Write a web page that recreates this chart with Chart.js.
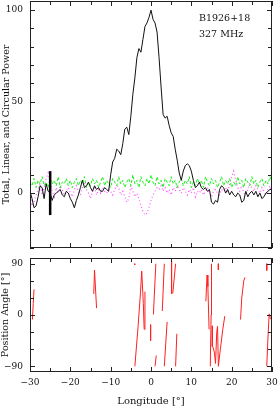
<!DOCTYPE html>
<html>
<head>
<meta charset="utf-8">
<script src="https://cdn.jsdelivr.net/npm/chart.js@4.4.0/dist/chart.umd.min.js"></script>
<style>
  html, body { margin: 0; padding: 0; background: #fff; }
  #wrap { position: relative; width: 278px; height: 407px; }
  canvas { position: absolute; left: 0; }
  #profileChart { top: 0; }
  #paChart { top: 250px; }
</style>
</head>
<body>
<div id="wrap">
  <canvas id="profileChart" width="278" height="250"></canvas>
  <canvas id="paChart" width="278" height="157"></canvas>
</div>
<script>
// Pulse longitude grid (deg)
const longitude = [
  -30, -29.5, -29, -28.5, -28, -27.5, -27, -26.5, -26, -25.5,
  -25, -24.5, -24, -23.5, -23, -22.5, -22, -21.5, -21, -20.5,
  -20, -19.5, -19, -18.5, -18, -17.5, -17, -16.5, -16, -15.5,
  -15, -14.5, -14, -13.5, -13, -12.5, -12, -11.5, -11, -10.5,
  -10, -9.5, -9, -8.5, -8, -7.5, -7, -6.5, -6, -5.5,
  -5, -4.5, -4, -3.5, -3, -2.5, -2, -1.5, -1, -0.5,
  0, 0.5, 1, 1.5, 2, 2.5, 3, 3.5, 4, 4.5,
  5, 5.5, 6, 6.5, 7, 7.5, 8, 8.5, 9, 9.5,
  10, 10.5, 11, 11.5, 12, 12.5, 13, 13.5, 14, 14.5,
  15, 15.5, 16, 16.5, 17, 17.5, 18, 18.5, 19, 19.5,
  20, 20.5, 21, 21.5, 22, 22.5, 23, 23.5, 24, 24.5,
  25, 25.5, 26, 26.5, 27, 27.5, 28, 28.5, 29, 29.5,
  30
];

// Total power (black solid)
const totalPower = [
  1, -3, -8, -7, -2, 4, 3, -3, 5, 1,
  0, -4, -1, 0, 1, 2, -1, -2, 1, 0,
  -3, -5, -8, -4, -1, 3, 7, 3, 4, 6,
  3, 1, 4, 2, 3, 1, 1, 3, 2, 1,
  10, 17, 19, 24, 23, 21, 27, 35, 36, 32,
  42, 54, 63, 74, 79, 77, 84, 91, 93, 96,
  100, 95, 93, 88, 74, 58, 43, 41, 42, 37,
  33, 31, 24, 18, 11, 7, 12, 15, 16, 15,
  12, 7, 3, 4, 6, 3, 2, 3, 1, 2,
  -5, -6, -4, -5, 2, 4, 3, 0, 2, -1,
  1, -1, -2, 0, -1, -5, -4, 1, -2, 0,
  1, -1, 1, -2, 0, -3, -2, 0, 1, 2,
  2
];

// Linear power (green dashed)
const linearPower = [
  6, 4, 8, 3, 7, 5, 9, 4, 6, 3,
  8, 5, 7, 4, 9, 3, 6, 5, 8, 4,
  7, 3, 6, 8, 4, 7, 5, 9, 3, 6,
  4, 8, 5, 7, 3, 6, 9, 4, 7, 5,
  3, 8, 6, 4, 9, 5, 7, 3, 6, 8,
  4, 10, 5, 7, 3, 9, 6, 4, 8, 5,
  10, 6, 4, 9, 5, 7, 3, 8, 6, 4,
  9, 5, 7, 3, 6, 8, 4, 7, 5, 9,
  3, 6, 4, 8, 5, 7, 3, 9, 6, 4,
  8, 5, 7, 3, 6, 9, 4, 7, 5, 8,
  3, 6, 4, 9, 5, 7, 3, 8, 6, 4,
  9, 5, 7, 3, 6, 8, 4, 7, 5, 9,
  6
];

// Circular power (magenta dotted)
const circularPower = [
  -2, -7, -5, -1, 2, 5, -1, 3, 8, 11,
  6, 1, -2, 3, 0, 4, 2, -1, 1, 3,
  0, -2, 2, 4, 1, -1, 3, 6, 2, 0,
  -3, 1, 3, -1, 2, 0, 3, 1, 0, 2,
  1, -1, 2, 4, 3, -1, 1, -2, -5, -3,
  4, 1, -2, 0, -3, -7, -10, -12, -11, -8,
  -4, -1, 1, 3, 2, 4, 1, 3, 0, 2,
  -1, 3, 1, 4, 2, 0, 3, 1, -1, 2,
  0, 3, -2, 1, 0, 2, -1, 1, 3, 0,
  -2, 1, 2, 0, -1, 2, 1, 3, 0, 5,
  9, 12, 7, 3, 1, 4, 0, -1, 2, 5,
  3, 1, 4, 2, 0, 3, 1, -1, 2, 4,
  1
];

// Off-pulse noise bar
const noiseLon = [-25, -25];
const noiseVal = [-12, 12];

// Position angle segments (null = break)
const paLon = [
  -29.4, -29.2, -29.0, null,
  -14.2, -14.0, -13.5, null,
  -4.15, -4.0, null,
  -4.0, -3.2, -2.6, -2.3, -1.9, -1.7, -1.5, null,
  -0.1, -0.1, null,
  0.6, 1.2, null,
  1.0, 1.3, null,
  2.8, 3.3, null,
  3.3, 4.0, null,
  5.1, 5.1, null,
  5.4, 6.1, null,
  6.1, 6.4, null,
  13.6, 13.9, 14.1, 14.4, null,
  14.7, 14.9, 15.0, null,
  15.2, 15.2, null,
  15.3, 15.7, 16.0, 16.3, 16.5, 16.7, 17.2, 17.8, 18.3, null,
  16.7, 16.7, null,
  22.2, 22.5, 23.0, 23.3, null,
  28.7, 28.7, null,
  28.7, 29.0, 29.3, 29.6, 30.0
];
const paAngle = [
  -8, 20, 45, null,
  37, 79, 12, null,
  90, 88, null,
  -90, -20, 40, 77, 20, -25, 41, null,
  -17, -45, null,
  1, 90, null,
  -90, -71, null,
  7, 90, null,
  -90, -12, null,
  95, 37, null,
  38, 90, null,
  -90, -33, null,
  24, 70, 50, -25, null,
  -90, 0, 90, null,
  -19, -55, null,
  -55, -65, -85, -30, -20, -90, -60, -25, -2, null,
  90, 79, null,
  -8, 30, 60, 66, null,
  90, 78, null,
  -90, -40, 2, -5, -10
];

// Ticks
const lonTicks = [-30, -25, -20, -15, -10, -5, 0, 5, 10, 15, 20, 25, 30];
const lonLabels = [-30, -20, -10, 0, 10, 20, 30];
const powerTicks = [-30, -20, -10, 0, 10, 20, 30, 40, 50, 60, 70, 80, 90, 100];
const powerLabels = [0, 50, 100];
const paTicks = [-90, -60, -30, 0, 30, 60, 90];
const paLabels = [-90, 0, 90];

Chart.defaults.font.family = "'DejaVu Serif', serif";
Chart.defaults.font.size = 9;
Chart.defaults.color = '#111';

function tickText(v) {
  return v < 0 ? '\u2212' + Math.abs(v) : String(v);
}

function pts(xs, ys) {
  return xs.map((x, i) => ({ x: x, y: ys[i] }));
}

// inward tick marks on all four sides + frame
const innerTicks = {
  id: 'innerTicks',
  afterDraw(chart, args, opts) {
    const { ctx, chartArea: a } = chart;
    const xs = chart.scales.x, ys = chart.scales.y;
    ctx.save();
    ctx.strokeStyle = '#222';
    ctx.lineWidth = 1;
    ctx.beginPath();
    opts.xTicks.forEach(v => {
      const px = Math.round(xs.getPixelForValue(v)) + 0.5;
      const len = opts.xLabels.includes(v) ? 5 : 4;
      ctx.moveTo(px, a.top); ctx.lineTo(px, a.top + len);
      ctx.moveTo(px, a.bottom); ctx.lineTo(px, a.bottom - len);
    });
    opts.yTicks.forEach(v => {
      const py = Math.round(ys.getPixelForValue(v)) + 0.5;
      const len = opts.yLabels.includes(v) ? 5 : 4;
      ctx.moveTo(a.left, py); ctx.lineTo(a.left + len, py);
      ctx.moveTo(a.right, py); ctx.lineTo(a.right - len, py);
    });
    ctx.stroke();
    ctx.strokeRect(a.left + 0.5, a.top + 0.5, a.right - a.left - 1, a.bottom - a.top - 1);
    if (opts.notes) {
      ctx.fillStyle = '#111';
      ctx.font = "9.5px 'DejaVu Serif', serif";
      ctx.textBaseline = 'middle';
      opts.notes.forEach(n => ctx.fillText(n.text, n.x, n.y));
    }
    ctx.restore();
  }
};

function setTicks(values) {
  return scale => { scale.ticks = values.map(v => ({ value: v })); };
}

// no label overflow padding, so the plot box sits where the reference has it
function fitX(h) {
  return s => { s.height = h; s.paddingLeft = 0; s.paddingRight = 0; };
}
function fitY(s) {
  s.width = 30; s.paddingTop = 0; s.paddingBottom = 0;
}

// top panel: total, linear, circular power
const profileChart = new Chart(document.getElementById('profileChart'), {
  type: 'line',
  data: {
    datasets: [
      { data: pts(longitude, totalPower), borderColor: '#111', borderWidth: 1 },
      { data: pts(noiseLon, noiseVal), borderColor: '#000', borderWidth: 2.5 },
      { data: pts(longitude, linearPower), borderColor: '#22ee22', borderWidth: 1, borderDash: [3, 2] },
      { data: pts(longitude, circularPower), borderColor: '#ff55ff', borderWidth: 1.2, borderDash: [1, 2.5] }
    ]
  },
  options: {
    responsive: false,
    animation: false,
    layout: { padding: { left: 0, right: 6, top: 1, bottom: 0 } },
    elements: { point: { radius: 0 }, line: { tension: 0 } },
    plugins: {
      legend: { display: false },
      tooltip: { enabled: false },
      innerTicks: {
        xTicks: lonTicks, xLabels: lonLabels, yTicks: powerTicks, yLabels: powerLabels,
        notes: [{ text: 'B1926+18', x: 199, y: 19 }, { text: '327 MHz', x: 199, y: 35 }]
      }
    },
    scales: {
      x: {
        type: 'linear', min: -30, max: 30,
        grid: { display: false, drawTicks: false },
        border: { display: false },
        ticks: { display: false },
        afterBuildTicks: setTicks(lonLabels),
        afterFit: fitX(2)
      },
      y: {
        type: 'linear', min: -30, max: 105,
        grid: { display: false, drawTicks: false },
        border: { display: false },
        ticks: { padding: 7, callback: v => tickText(v) },
        afterBuildTicks: setTicks(powerLabels),
        afterFit: fitY,
        title: { display: true, text: 'Total, Linear, and Circular Power', padding: { top: 1, bottom: 0 }, font: { size: 9.5 } }
      }
    }
  },
  plugins: [innerTicks]
});

// bottom panel: position angle
const paChart = new Chart(document.getElementById('paChart'), {
  type: 'line',
  data: {
    datasets: [
      { data: pts(paLon, paAngle), borderColor: '#ff2020', borderWidth: 1, spanGaps: false }
    ]
  },
  options: {
    responsive: false,
    animation: false,
    layout: { padding: { left: 0, right: 6, top: 8, bottom: 0 } },
    elements: { point: { radius: 0 }, line: { tension: 0 } },
    plugins: {
      legend: { display: false },
      tooltip: { enabled: false },
      innerTicks: { xTicks: lonTicks, xLabels: lonLabels, yTicks: paTicks, yLabels: paLabels }
    },
    scales: {
      x: {
        type: 'linear', min: -30, max: 30,
        grid: { display: false, drawTicks: false },
        border: { display: false },
        ticks: { padding: 5, maxRotation: 0, callback: v => tickText(v) },
        afterBuildTicks: setTicks(lonLabels),
        afterFit: fitX(35),
        title: { display: true, text: 'Longitude [\u00b0]', padding: { top: 0, bottom: 0 }, font: { size: 10 } }
      },
      y: {
        type: 'linear', min: -100, max: 100,
        grid: { display: false, drawTicks: false },
        border: { display: false },
        ticks: { padding: 7, callback: v => tickText(v) },
        afterBuildTicks: setTicks(paLabels),
        afterFit: fitY,
        title: { display: true, text: 'Position Angle [\u00b0]', padding: { top: 0, bottom: 0 }, font: { size: 9.5 } }
      }
    }
  },
  plugins: [innerTicks]
});
</script>
</body>
</html>
